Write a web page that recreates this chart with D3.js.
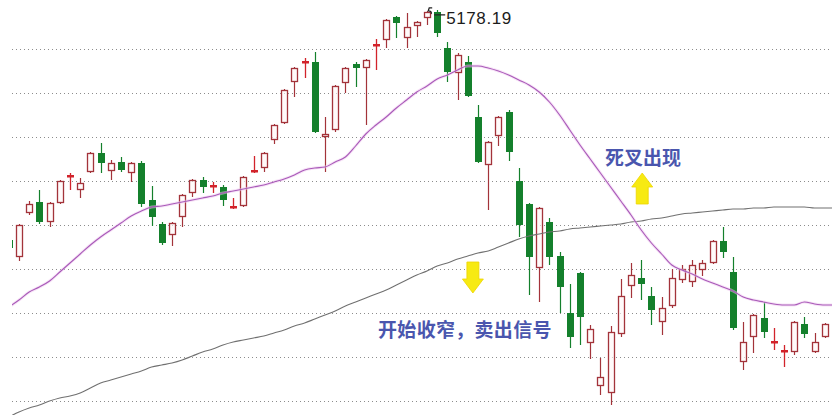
<!DOCTYPE html>
<html><head><meta charset="utf-8">
<script src="https://cdn.jsdelivr.net/npm/d3@7"></script>
<style>html,body{margin:0;padding:0;background:#fff;}svg{display:block;}</style>
</head><body>
<svg id="c" width="832" height="415"></svg>
<script>
// ---- data (index points) ----
const opens = [3798,3696,3960,4026,3906,4020,4170,4098,4206,4320,
 4212,4266,4200,4260,4038,3894,3828,3936,4080,4158,
 4116,4116,3990,4002,4206,4230,4398,4500,4746,4860,
 4866,4416,4458,4740,4854,4830,4962,4998,5136,5010,
 5082,5130,5166,4950,4800,4866,4536,4248,4422,4566,
 4152,4014,3630,3906,3702,3360,3600,3180,2922,2880,
 3234,3522,3570,3462,3306,3402,3558,3546,3618,3660,
 3792,3606,3066,3216,3330,3174,3120,3126,3294,3126,
 3216];
const closes = [3750,3888,4014,3906,4020,4152,4182,4140,4320,4260,
 4260,4218,4260,4014,3936,3780,3900,4068,4158,4116,
 4122,4038,3996,4176,4212,4320,4488,4698,4830,4866,
 4446,4434,4722,4830,4830,4878,4968,5118,5100,5076,
 5106,5166,5040,4806,4908,4662,4266,4386,4536,4326,
 3888,3696,3990,3696,3516,3216,3336,3264,2976,3246,
 3462,3588,3534,3378,3390,3570,3624,3648,3660,3792,
 3726,3270,3186,3348,3246,3186,3132,3306,3234,3186,
 3294];
const highs = [3810,3894,4032,4098,4026,4158,4200,4170,4326,4380,
 4278,4296,4266,4272,4122,3906,3906,4074,4164,4176,
 4146,4128,4050,4182,4302,4326,4494,4704,4836,4890,
 4926,4536,4728,4836,4866,4884,5004,5124,5142,5160,
 5112,5172,5178.19,4986,4920,4902,4608,4392,4542,4578,
 4230,4020,3996,3930,3726,3534,3606,3288,3090,3282,
 3564,3660,3678,3516,3456,3624,3648,3678,3678,3798,
 3876,3696,3306,3354,3426,3270,3168,3312,3336,3240,
 3300];
const lows = [3738,3672,3948,3894,3876,4014,4098,4050,4200,4200,
 4158,4206,4146,3996,3882,3768,3762,3876,4056,4080,
 4080,4002,3984,3996,4200,4206,4374,4494,4656,4770,
 4440,4206,4446,4680,4716,4488,4818,4950,5010,4950,
 5016,5088,5016,4746,4638,4656,4260,3978,4362,4272,
 3816,3468,3426,3648,3360,3150,3168,3084,2868,2808,
 3216,3450,3438,3288,3228,3390,3540,3516,3582,3654,
 3690,3258,3018,3120,3210,3138,3036,3108,3210,3120,
 3210];
// short moving average (purple)
const maShort = [3396,3438,3486,3516,3552,3606,3660,3714,3768,3816,
 3858,3900,3942,3972,3996,4002,4014,4026,4038,4050,
 4062,4080,4092,4104,4116,4128,4146,4164,4188,4218,
 4230,4236,4266,4296,4362,4434,4488,4536,4590,4638,
 4686,4722,4764,4788,4818,4842,4842,4830,4812,4788,
 4758,4728,4686,4626,4548,4458,4368,4284,4200,4116,
 4032,3948,3858,3780,3714,3648,3618,3594,3564,3540,
 3516,3492,3456,3438,3426,3414,3408,3408,3426,3414,
 3408,3408];
// long moving average (gray)
const maLong = [2736,2766,2790,2808,2832,2850,2862,2880,2910,2940,
 2958,2976,2994,3012,3036,3048,3060,3078,3102,3126,
 3144,3168,3186,3198,3210,3222,3240,3258,3282,3300,
 3324,3348,3372,3402,3426,3450,3474,3498,3528,3558,
 3588,3612,3642,3660,3684,3702,3720,3732,3756,3780,
 3804,3822,3834,3846,3852,3864,3870,3876,3882,3888,
 3894,3906,3912,3924,3930,3942,3954,3960,3966,3972,
 3978,3984,3984,3990,3990,3996,3996,3996,3996,3990,
 3990,3990];
const gridLevels = [4944,4680,4416,4152,3888,3624,3360,3096,2832];
const peakValue = 5178.19;
const noteCross = "死叉出现";
const noteSell = "开始收窄，卖出信号";

// ---- scales ----
const W = 832, H = 415, left = 12;
const x = d3.scaleLinear().domain([0, 80]).range([8.8, 824.8]);
const y = d3.scaleLinear().domain([2748, 5238]).range([H, 0]);

const svg = d3.select('#c');
svg.append('defs').append('clipPath').attr('id','plot')
  .append('rect').attr('x', left).attr('y', 0).attr('width', W - left).attr('height', H);

// grid via axis
const grid = svg.append('g').attr('transform', `translate(${left},0.5)`)
  .call(d3.axisRight(y).tickValues(gridLevels).tickSize(W - left).tickFormat(''));
grid.select('.domain').remove();
grid.selectAll('.tick line').attr('stroke', '#8c8c8c').attr('stroke-dasharray', '1,3');
grid.selectAll('.tick').attr('transform', d => `translate(0,${Math.round(y(d))})`);

const plot = svg.append('g').attr('clip-path', 'url(#plot)');

// candles
const RED = '#a3333a', CROSS = '#d2232b', GREEN = '#14802c';
const idx = d3.range(opens.length);
const cg = plot.append('g');
idx.forEach(i => {
  const cx = Math.round(x(i));
  const yo = y(opens[i]), yc = y(closes[i]), yh = y(highs[i]), yl = y(lows[i]);
  const up = closes[i] >= opens[i];
  const top = Math.round(Math.min(yo, yc)), bot = Math.round(Math.max(yo, yc));
  const isCross = Math.abs(yo - yc) < 2.5;
  const col = isCross ? CROSS : (up ? RED : GREEN);
  if (isCross) {
    cg.append('line').attr('x1', cx + 0.5).attr('x2', cx + 0.5)
      .attr('y1', Math.round(yh)).attr('y2', Math.round(yl)).attr('stroke', col).attr('stroke-width', 1.3);
    cg.append('rect').attr('x', cx - 3).attr('y', top - 1).attr('width', 7).attr('height', 2.5).attr('fill', col);
  } else if (up) {
    cg.append('line').attr('x1', cx + 0.5).attr('x2', cx + 0.5)
      .attr('y1', Math.round(yh)).attr('y2', top).attr('stroke', col).attr('stroke-width', 1.2);
    cg.append('line').attr('x1', cx + 0.5).attr('x2', cx + 0.5)
      .attr('y1', bot).attr('y2', Math.round(yl)).attr('stroke', col).attr('stroke-width', 1.2);
    cg.append('rect').attr('x', cx - 2.5).attr('y', top + 0.5).attr('width', 6).attr('height', Math.max(1, bot - top - 1))
      .attr('fill', '#fff6f6').attr('fill-opacity', 0.6).attr('stroke', col).attr('stroke-width', 1.3);
  } else {
    cg.append('line').attr('x1', cx + 0.5).attr('x2', cx + 0.5)
      .attr('y1', Math.round(yh)).attr('y2', Math.round(yl)).attr('stroke', col).attr('stroke-width', 1.2);
    cg.append('rect').attr('x', cx - 3).attr('y', top).attr('width', 7).attr('height', Math.max(1, bot - top))
      .attr('fill', col);
  }
});

// moving averages
const line = d3.line().x((d, i) => x(i)).y(d => y(d)).curve(d3.curveMonotoneX);
plot.append('path').datum(maLong).attr('d', line).attr('fill', 'none')
  .attr('stroke', '#707070').attr('stroke-width', 1.1);
plot.append('path').datum(maShort).attr('d', line).attr('fill', 'none')
  .attr('stroke', '#f0c8f0').attr('stroke-width', 3).attr('stroke-opacity', 0.5);
plot.append('path').datum(maShort).attr('d', line).attr('fill', 'none')
  .attr('stroke', '#a85ab8').attr('stroke-width', 1.1);

// peak label
const peakIdx = highs.indexOf(d3.max(highs));
const px = x(peakIdx), py = y(peakValue);
svg.append('path').attr('d', `M${px - 5},${py - 2} l-3,0 l-1,3 q4,0 3,3 M${px - 3},${py + 5} L${px + 8},${py + 5}`)
  .attr('fill', 'none').attr('stroke', '#222').attr('stroke-width', 1.2);
svg.append('text').attr('x', px + 9).attr('y', py + 14)
  .attr('font-family', '"Liberation Sans", Arial, sans-serif').attr('font-size', 17)
  .attr('letter-spacing', 0.6).attr('fill', '#1c1c1c').text(d3.format('.2f')(peakValue));

// annotations
const noteStyle = s => s.attr('font-family', '"Noto Sans CJK SC", sans-serif').attr('font-weight', 700)
  .attr('font-size', 19).attr('fill', '#4a56ae');
svg.append('text').attr('x', x(58.45)).attr('y', y(4248)).call(noteStyle).text(noteCross);
svg.append('text').attr('x', x(36.2)).attr('y', y(3216)).call(noteStyle).attr('letter-spacing', 0.3).text(noteSell);

// yellow arrows
function arrow(cx, tipY, dir) {
  // dir = -1 points up, +1 points down
  const hw = 10.5, sw = 6, hh = 14, len = 31;
  const base = tipY - dir * hh, end = tipY - dir * len;
  const p = d3.path();
  p.moveTo(cx, tipY); p.lineTo(cx + hw, base); p.lineTo(cx + sw, base); p.lineTo(cx + sw, end);
  p.lineTo(cx - sw, end); p.lineTo(cx - sw, base); p.lineTo(cx - hw, base); p.closePath();
  svg.append('path').attr('d', p.toString()).attr('fill', '#f7ea12').attr('stroke', '#eed400').attr('stroke-width', 0.8);
}
arrow(x(62.1), y(4200), -1);
arrow(x(45.5), y(3480), 1);
</script>
</body></html>
